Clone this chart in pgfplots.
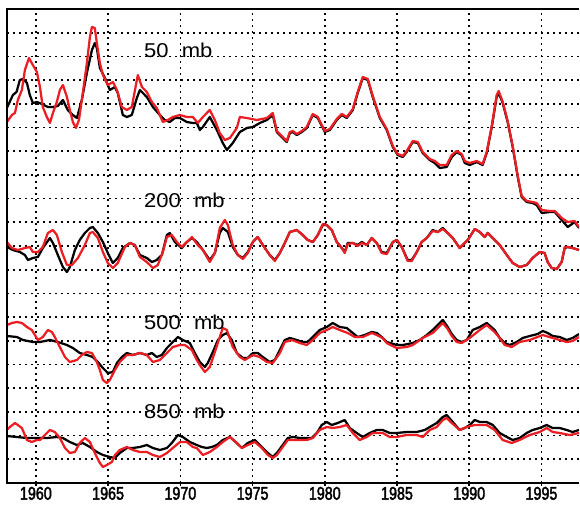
\documentclass[border=0pt]{standalone}
\usepackage{fontspec}
\setmainfont{Liberation Sans}
\newfontfamily\tickfont[FakeStretch=0.78,FakeBold=2.2]{Liberation Sans}
\newfontfamily\labfont[FakeStretch=1.1]{Liberation Sans}
\usepackage{pgfplots}
\pgfplotsset{compat=1.18}
\definecolor{cred}{RGB}{235,30,35}

\pgfplotstableread{
x y
1957.99 375
1958.41 388
1958.66 391
1958.89 403
1959.10 404
1959.38 400
1959.58 388
1959.79 380
1960.07 381
1960.42 379
1960.83 376
1961.18 376
1961.52 377
1961.87 383
1962.21 373
1962.56 368
1962.84 365
1963.18 383
1963.53 410
1963.88 433
1964.08 440
1964.22 435
1964.43 415
1964.78 405
1965.12 393
1965.47 396
1965.67 390
1966.02 368
1966.30 366
1966.64 368
1966.99 385
1967.20 393
1967.68 386
1968.10 376
1968.58 368
1968.93 363
1969.27 361
1969.62 365
1969.97 365
1970.45 361
1970.87 360
1971.14 360
1971.35 353
1971.56 356
1972.04 366
1972.53 353
1972.94 340
1973.22 333
1973.63 340
1974.12 351
1974.60 355
1975.02 356
1975.50 360
1975.99 363
1976.40 368
1976.68 351
1977.09 345
1977.37 341
1977.58 350
1977.79 351
1978.06 348
1978.41 351
1978.75 355
1979.17 368
1979.52 365
1980.00 351
1980.35 353
1980.83 363
1981.18 368
1981.52 365
1981.94 373
1982.28 390
1982.63 405
1982.98 403
1983.32 386
1983.81 365
1984.29 353
1984.71 336
1985.05 328
1985.40 326
1985.67 331
1986.09 341
1986.44 340
1986.78 330
1987.27 323
1987.61 320
1987.96 315
1988.44 316
1988.79 326
1989.13 331
1989.48 328
1989.69 320
1990.03 318
1990.52 321
1990.93 318
1991.21 330
1991.56 356
1991.90 386
1992.04 390
1992.32 380
1992.66 361
1993.01 336
1993.36 306
1993.63 286
1993.98 281
1994.39 280
1994.67 278
1995.02 270
1995.57 271
1995.92 271
1996.40 263
1996.82 256
1997.30 261
1997.60 255
}\bfifty

\pgfplotstableread{
x y
1957.99 361
1958.34 368
1958.55 370
1958.75 383
1959.03 393
1959.24 413
1959.52 425
1959.79 418
1960.07 411
1960.28 396
1960.48 376
1960.76 366
1960.97 360
1961.18 370
1961.45 381
1961.66 393
1961.87 398
1962.15 386
1962.35 373
1962.56 361
1962.77 355
1962.98 363
1963.25 390
1963.53 420
1963.74 446
1963.88 456
1964.08 455
1964.22 440
1964.43 420
1964.64 408
1964.98 398
1965.33 401
1965.61 393
1965.95 376
1966.30 373
1966.64 376
1966.99 403
1967.06 408
1967.34 396
1967.68 391
1968.03 381
1968.37 375
1968.79 361
1969.13 363
1969.48 366
1969.97 368
1970.45 366
1970.87 366
1971.21 360
1971.56 366
1972.04 373
1972.39 363
1972.73 350
1973.08 343
1973.43 345
1973.91 355
1974.12 366
1974.60 365
1975.29 363
1975.99 365
1976.40 370
1976.68 352
1977.09 346
1977.37 342
1977.58 351
1977.79 352
1978.06 349
1978.41 352
1978.75 356
1979.17 369
1979.52 366
1980.00 352
1980.35 354
1980.83 364
1981.18 369
1981.52 366
1981.94 374
1982.28 391
1982.63 406
1982.98 404
1983.32 387
1983.81 366
1984.29 354
1984.71 337
1985.05 329
1985.40 327
1985.67 332
1986.09 342
1986.44 341
1986.78 331
1987.27 324
1987.61 322
1987.96 318
1988.44 318
1988.79 328
1989.13 332
1989.48 329
1989.69 322
1990.03 320
1990.52 322
1990.93 319
1991.21 331
1991.56 357
1991.90 388
1992.04 392
1992.32 381
1992.66 362
1993.01 337
1993.36 307
1993.63 287
1993.98 282
1994.39 281
1994.67 280
1995.02 273
1995.57 272
1995.92 272
1996.40 265
1996.82 261
1997.30 262
1997.60 256
}\rfifty

\pgfplotstableread{
x y
1957.99 236
1958.41 233
1958.89 231
1959.24 228
1959.45 223
1959.79 225
1960.14 226
1960.48 235
1960.97 245
1961.18 240
1961.52 228
1961.87 216
1962.15 211
1962.35 216
1962.70 233
1963.04 243
1963.39 250
1963.74 255
1963.94 256
1964.29 250
1964.64 241
1964.98 230
1965.33 220
1965.67 225
1966.02 235
1966.51 240
1966.85 238
1967.20 228
1967.68 225
1968.03 221
1968.37 223
1968.72 228
1969.07 248
1969.27 250
1969.62 241
1970.10 235
1970.45 241
1970.80 245
1971.14 241
1971.56 233
1972.04 223
1972.39 230
1972.73 250
1972.94 255
1973.29 251
1973.63 236
1973.98 228
1974.33 225
1974.67 231
1975.02 241
1975.36 246
1975.71 238
1976.19 228
1976.54 223
1976.89 230
1977.23 240
1977.58 251
1978.06 253
1978.48 248
1978.82 243
1979.17 241
1979.52 248
1979.86 258
1980.14 258
1980.48 253
1980.83 241
1981.18 235
1981.38 231
1981.59 240
1981.94 240
1982.28 238
1982.56 241
1982.91 238
1983.25 245
1983.60 240
1983.94 231
1984.29 230
1984.71 241
1984.98 243
1985.33 236
1985.74 223
1986.02 223
1986.37 231
1986.71 241
1987.06 245
1987.47 253
1987.82 251
1988.17 255
1988.51 250
1988.86 245
1989.34 235
1989.55 238
1989.90 243
1990.38 254
1990.73 251
1991.07 246
1991.28 250
1991.63 245
1992.11 238
1992.60 228
1993.01 220
1993.49 216
1993.98 218
1994.39 225
1994.88 231
1995.22 230
1995.43 221
1995.71 215
1996.06 214
1996.40 221
1996.61 235
1996.82 236
1997.16 235
1997.60 233
}\btwohundred

\pgfplotstableread{
x y
1957.99 241
1958.34 235
1958.75 233
1959.24 235
1959.58 236
1959.79 231
1960.14 231
1960.48 236
1960.83 250
1961.18 253
1961.45 248
1961.80 231
1962.15 218
1962.49 218
1962.91 225
1963.39 238
1963.74 250
1963.94 251
1964.29 245
1964.64 231
1964.98 220
1965.33 215
1965.67 220
1966.16 236
1966.51 240
1966.85 238
1967.20 226
1967.68 221
1968.10 215
1968.44 218
1968.79 231
1969.07 246
1969.41 248
1969.76 241
1970.10 236
1970.45 241
1970.80 246
1971.21 238
1971.56 233
1972.04 221
1972.39 230
1972.73 255
1973.08 263
1973.29 258
1973.63 238
1973.98 228
1974.33 224
1974.67 230
1975.02 241
1975.36 246
1975.71 238
1976.19 228
1976.54 222
1976.89 230
1977.23 240
1977.58 251
1978.06 253
1978.48 248
1978.82 243
1979.17 241
1979.52 248
1979.86 259
1980.14 258
1980.48 253
1980.83 241
1981.18 235
1981.38 230
1981.59 239
1981.94 240
1982.28 237
1982.56 240
1982.91 238
1983.25 245
1983.60 240
1983.94 230
1984.29 229
1984.71 241
1984.98 243
1985.33 236
1985.74 222
1986.02 222
1986.37 231
1986.71 241
1987.06 245
1987.47 252
1987.82 251
1988.17 254
1988.51 250
1988.86 245
1989.34 235
1989.55 238
1989.90 243
1990.38 254
1990.73 251
1991.07 246
1991.28 250
1991.63 245
1992.11 238
1992.60 228
1993.01 220
1993.49 216
1993.98 218
1994.39 225
1994.88 231
1995.22 230
1995.43 221
1995.71 215
1996.06 214
1996.40 221
1996.61 236
1996.82 236
1997.16 235
1997.60 233
}\rtwohundred

\pgfplotstableread{
x y
1957.99 147
1958.69 146
1959.10 143
1959.79 141
1960.28 141
1960.97 143
1961.52 141
1962.15 138
1962.56 135
1963.04 130
1963.53 128
1963.94 126
1964.29 121
1964.64 115
1964.98 110
1965.33 111
1965.61 120
1965.95 126
1966.30 130
1966.71 128
1967.20 130
1967.68 128
1968.03 130
1968.37 126
1968.72 128
1969.07 135
1969.48 141
1969.83 146
1970.17 143
1970.66 140
1971.00 130
1971.35 121
1971.70 116
1971.90 120
1972.25 131
1972.60 143
1972.94 148
1973.22 150
1973.56 143
1973.91 130
1974.33 125
1974.67 125
1975.02 130
1975.36 130
1975.71 126
1976.19 121
1976.54 123
1976.89 133
1977.23 143
1977.58 145
1978.06 143
1978.48 141
1978.82 141
1979.17 146
1979.65 153
1980.14 156
1980.55 160
1981.04 156
1981.52 155
1981.94 150
1982.28 146
1982.77 148
1983.25 151
1983.60 150
1983.94 146
1984.29 141
1984.98 138
1985.40 138
1986.09 140
1986.57 143
1987.06 148
1987.47 153
1988.17 163
1988.51 156
1988.79 149
1989.13 143
1989.48 141
1989.83 143
1990.24 153
1990.73 156
1991.21 160
1991.76 153
1992.11 145
1992.46 140
1992.80 138
1993.29 141
1993.70 145
1994.19 147
1994.74 149
1995.09 152
1995.43 150
1995.78 147
1996.26 146
1996.75 143
1997.16 145
1997.60 149
}\bfivehundred

\pgfplotstableread{
x y
1957.99 158
1958.34 160
1958.69 161
1959.03 160
1959.38 156
1959.72 153
1960.14 143
1960.48 146
1960.83 153
1961.11 151
1961.31 146
1961.66 136
1962.01 126
1962.35 121
1962.84 123
1963.18 128
1963.53 131
1963.88 130
1964.22 121
1964.43 113
1964.64 103
1964.91 100
1965.12 103
1965.47 113
1965.81 121
1966.30 128
1966.71 128
1967.20 130
1967.68 128
1968.10 121
1968.58 123
1969.07 130
1969.48 136
1969.97 138
1970.31 138
1970.80 133
1971.14 123
1971.35 118
1971.70 111
1972.04 116
1972.39 131
1972.73 146
1972.94 155
1973.22 153
1973.63 136
1974.12 126
1974.46 123
1975.02 128
1975.50 126
1975.99 121
1976.40 120
1976.89 130
1977.23 141
1977.72 143
1978.27 140
1978.75 138
1979.17 143
1979.65 150
1980.14 153
1980.55 156
1981.04 153
1981.59 150
1982.08 146
1982.63 146
1983.25 150
1983.60 148
1984.01 145
1984.29 140
1984.98 135
1985.67 136
1986.09 138
1986.78 145
1987.47 150
1988.17 160
1988.51 154
1988.79 147
1989.13 141
1989.48 140
1990.03 145
1990.73 153
1991.21 158
1991.76 151
1992.11 145
1992.46 138
1992.94 136
1993.49 141
1994.19 143
1995.09 148
1995.78 145
1996.75 141
1997.16 142
1997.60 146
}\rfivehundred

\pgfplotstableread{
x y
1957.99 47
1958.69 46
1959.38 45
1960.07 45
1960.76 45
1961.45 46
1961.87 45
1962.35 41
1962.84 38
1963.25 40
1963.74 36
1964.22 31
1964.64 28
1965.12 26
1965.47 25
1965.81 30
1966.30 35
1966.71 35
1967.20 36
1967.68 38
1968.10 35
1968.58 33
1969.07 35
1969.41 40
1969.83 48
1970.17 46
1970.66 41
1971.14 38
1971.49 36
1971.83 35
1972.18 36
1972.53 38
1972.94 43
1973.43 46
1973.91 40
1974.26 35
1974.67 40
1975.16 43
1975.64 36
1976.06 30
1976.40 26
1976.68 30
1977.09 38
1977.44 45
1977.79 46
1978.27 45
1978.75 45
1979.10 45
1979.45 50
1979.79 58
1980.14 61
1980.48 58
1980.90 60
1981.38 63
1981.73 55
1982.21 50
1982.63 46
1983.11 50
1983.60 53
1984.01 53
1984.50 50
1984.98 50
1985.67 51
1986.37 51
1986.92 53
1987.27 56
1987.75 60
1988.17 66
1988.44 68
1988.86 61
1989.34 53
1989.69 55
1990.03 58
1990.38 63
1990.73 61
1991.21 61
1991.63 58
1992.11 50
1992.60 46
1993.01 43
1993.49 45
1993.98 50
1994.39 53
1994.88 55
1995.36 58
1995.78 55
1996.26 55
1996.75 53
1997.16 51
1997.60 53
}\beightfifty

\pgfplotstableread{
x y
1957.99 53
1958.20 56
1958.55 60
1958.75 58
1959.03 55
1959.38 43
1959.72 41
1960.07 43
1960.28 43
1960.62 48
1960.97 53
1961.31 51
1961.66 45
1962.01 35
1962.35 30
1962.70 31
1963.04 40
1963.39 45
1963.74 41
1964.08 30
1964.43 20
1964.64 16
1964.91 18
1965.26 21
1965.47 28
1965.81 33
1966.30 36
1966.71 33
1967.20 31
1967.68 31
1968.10 28
1968.58 26
1969.07 30
1969.48 35
1969.97 41
1970.45 41
1970.87 36
1971.14 35
1971.56 28
1972.04 31
1972.53 36
1972.94 41
1973.43 46
1973.91 40
1974.26 35
1974.67 38
1975.16 41
1975.64 35
1976.06 28
1976.40 25
1976.68 28
1977.09 36
1977.44 43
1978.06 43
1978.75 43
1979.17 45
1979.65 53
1980.14 56
1980.55 55
1981.04 56
1981.52 58
1981.94 50
1982.42 43
1982.91 46
1983.32 50
1984.01 50
1984.50 46
1984.98 46
1985.67 48
1986.37 48
1986.78 46
1987.27 53
1987.75 56
1988.17 63
1988.44 65
1988.79 60
1989.34 53
1989.83 56
1990.38 58
1990.73 58
1991.21 58
1991.76 53
1992.32 43
1992.94 40
1993.49 43
1994.19 48
1994.88 51
1995.36 55
1995.78 51
1996.26 50
1996.96 48
1997.60 50
}\reightfifty

\begin{document}
\begin{tikzpicture}[x=1pt,y=1pt]
\path[use as bounding box] (0,0) rectangle (348,303);
\begin{axis}[
  name=ax,
  at={(4.2pt,13.2pt)}, anchor=south west,
  scale only axis, width=343.2pt, height=284.4pt,
  xmin=1958, xmax=1997.6, ymin=0, ymax=474,
  xtick={1960,1965,1970,1975,1980,1985,1990,1995},
  xticklabels={1960,1965,1970,1975,1980,1985,1990,1995},
  xticklabel style={font=\tickfont\fontsize{11}{12}\selectfont, yshift=3pt},
  ytick={0,23.7,47.4,71.1,94.8,118.5,142.2,165.9,189.6,213.3,237,260.7,284.4,308.1,331.8,355.5,379.2,402.9,426.6,450.3,474},
  yticklabels={},
  ytick style={draw=none},
  xtick pos=bottom, tick align=outside,
  major tick length=1.8pt,
  xtick style={black, line width=0.9pt},
  axis line style={draw=none},
  grid=major,
  major grid style={black, line width=1pt, dash pattern=on 1.1pt off 2.5pt},
  every axis plot/.append style={line width=1.35pt, line join=round},
]
\addplot[black] table {\bfifty};
\addplot[cred] table {\rfifty};
\addplot[black] table {\btwohundred};
\addplot[cred] table {\rtwohundred};
\addplot[black] table {\bfivehundred};
\addplot[cred] table {\rfivehundred};
\addplot[black] table {\beightfifty};
\addplot[cred] table {\reightfifty};
\node[anchor=west, inner sep=0pt, font=\labfont\fontsize{12}{13}\selectfont] at (axis cs:1967.47,433) {50\hspace{8pt}mb};
\node[anchor=west, inner sep=0pt, font=\labfont\fontsize{12}{13}\selectfont] at (axis cs:1967.47,283) {200\hspace{8pt}mb};
\node[anchor=west, inner sep=0pt, font=\labfont\fontsize{12}{13}\selectfont] at (axis cs:1967.47,161) {500\hspace{8pt}mb};
\node[anchor=west, inner sep=0pt, font=\labfont\fontsize{12}{13}\selectfont] at (axis cs:1967.47,72) {850\hspace{8pt}mb};
\end{axis}
\draw[line width=1.6pt] (ax.north east) -- (ax.north west) -- (ax.south west) -- (ax.south east);
\end{tikzpicture}
\end{document}
